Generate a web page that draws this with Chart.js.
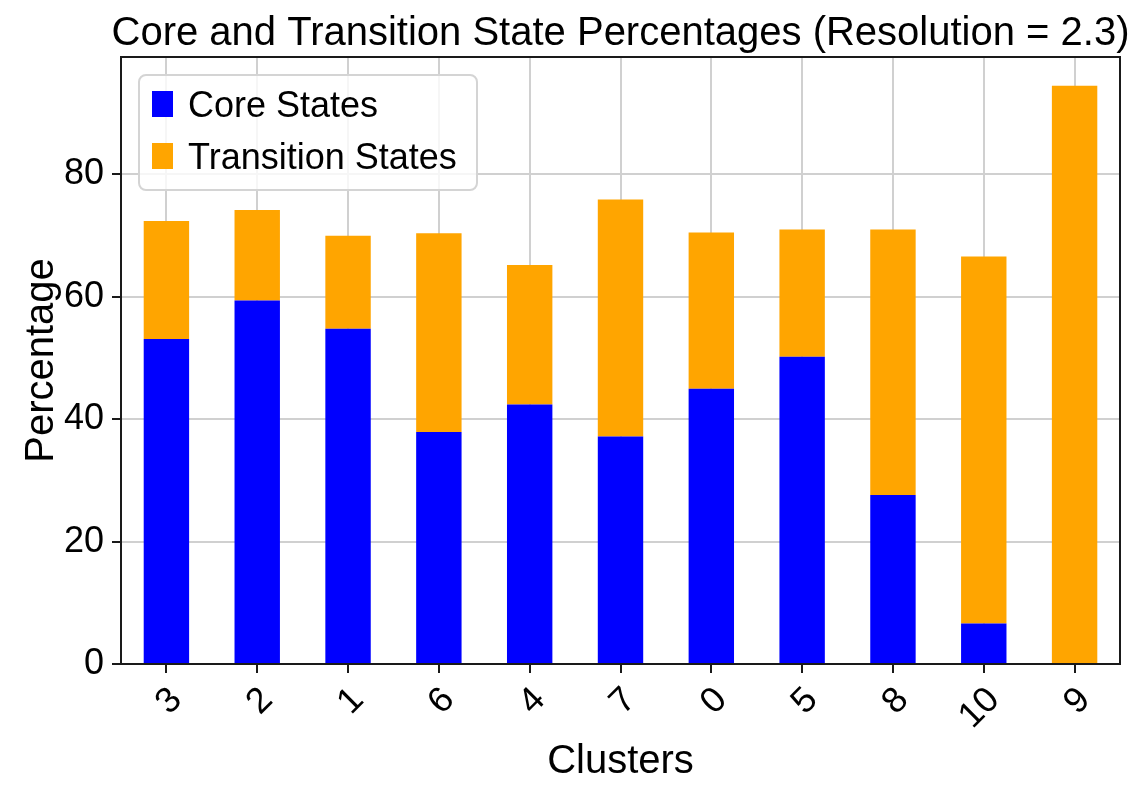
<!DOCTYPE html>
<html>
<head>
<meta charset="utf-8">
<script src="https://cdn.jsdelivr.net/npm/chart.js@4"></script>
<style>
  html, body { margin: 0; padding: 0; background: #fff; }
  canvas { display: block; }
</style>
</head>
<body>
<canvas id="myChart" width="1145" height="798"></canvas>
<script>
const clusters = ['3', '2', '1', '6', '4', '7', '0', '5', '8', '10', '9'];
const coreStates = [53.1, 59.4, 54.8, 37.9, 42.4, 37.2, 45.0, 50.2, 27.6, 6.6, 0];
const transitionStates = [19.3, 14.8, 15.2, 32.5, 22.8, 38.7, 25.5, 20.8, 43.4, 60.0, 94.5];
const yTicks = [0, 20, 40, 60, 80];

const FONT = "'Liberation Sans', Arial, sans-serif";

// title, frame and legend drawn over the plot like matplotlib does
const extras = {
    id: 'extras',
    afterDraw(chart) {
        const { ctx, chartArea } = chart;
        ctx.save();

        // spines
        ctx.strokeStyle = '#1a1a1a';
        ctx.lineWidth = 2;
        ctx.strokeRect(chartArea.left, chartArea.top, chartArea.right - chartArea.left, chartArea.bottom - chartArea.top);

        // title
        ctx.fillStyle = '#000';
        ctx.font = '40px ' + FONT;
        ctx.textAlign = 'center';
        ctx.textBaseline = 'alphabetic';
        ctx.fillText('Core and Transition State Percentages (Resolution = 2.3)', (chartArea.left + chartArea.right) / 2, 45);

        // legend
        const lx = chartArea.left + 18, ly = chartArea.top + 18, lw = 338, lh = 115;
        ctx.beginPath();
        ctx.roundRect(lx, ly, lw, lh, 7);
        ctx.fillStyle = 'rgba(255,255,255,0.8)';
        ctx.fill();
        ctx.strokeStyle = '#d4d4d4';
        ctx.lineWidth = 2;
        ctx.stroke();

        ctx.font = '36px ' + FONT;
        ctx.textAlign = 'left';
        chart.data.datasets.forEach((ds, i) => {
            const y = ly + 16 + i * 52;
            ctx.fillStyle = ds.backgroundColor;
            ctx.fillRect(lx + 13, y, 21, 26);
            ctx.fillStyle = '#000';
            ctx.fillText(ds.label, lx + 49, y + 26);
        });
        ctx.restore();
    }
};

const ctx = document.getElementById('myChart').getContext('2d');
const chart = new Chart(ctx, {
    type: 'bar',
    data: {
        labels: clusters,
        datasets: [{
            label: 'Core States',
            backgroundColor: '#0000ff',
            data: coreStates
        }, {
            label: 'Transition States',
            backgroundColor: '#ffa500',
            data: transitionStates
        }]
    },
    plugins: [extras],
    options: {
        responsive: false,
        animation: false,
        layout: { padding: { top: 57, right: 25, left: 0, bottom: 0 } },
        datasets: {
            bar: { categoryPercentage: 1.0, barPercentage: 0.5 }
        },
        plugins: {
            legend: { display: false },
            title: { display: false },
            tooltip: { enabled: false }
        },
        scales: {
            x: {
                stacked: true,
                z: 1,
                grid: { offset: false, color: '#d0d0d0', lineWidth: 2, tickColor: '#1a1a1a', tickLength: 9, tickWidth: 2 },
                border: { color: '#1a1a1a', width: 2 },
                ticks: {
                    color: '#000',
                    font: { family: FONT, size: 36 },
                    minRotation: 45,
                    maxRotation: 45,
                    padding: 6,
                    labelOffset: 10
                },
                title: {
                    display: true,
                    text: 'Clusters',
                    color: '#000',
                    font: { family: FONT, size: 40 },
                    padding: { top: 0, bottom: 12 }
                },
                afterFit(scale) { scale.height = 134; }
            },
            y: {
                stacked: true,
                z: 1,
                min: 0,
                max: 99.2,
                grid: { color: '#d0d0d0', lineWidth: 2, tickColor: '#1a1a1a', tickLength: 9, tickWidth: 2 },
                border: { color: '#1a1a1a', width: 2 },
                ticks: {
                    stepSize: 20,
                    color: '#000',
                    font: { family: FONT, size: 36 },
                    padding: 8
                },
                afterBuildTicks(scale) {
                    scale.ticks = yTicks.map(v => ({ value: v }));
                },
                title: {
                    display: true,
                    text: 'Percentage',
                    color: '#000',
                    font: { family: FONT, size: 40 },
                    padding: { top: 18, bottom: 0 }
                },
                afterFit(scale) { scale.width = 121; }
            }
        }
    }
});
</script>
</body>
</html>
